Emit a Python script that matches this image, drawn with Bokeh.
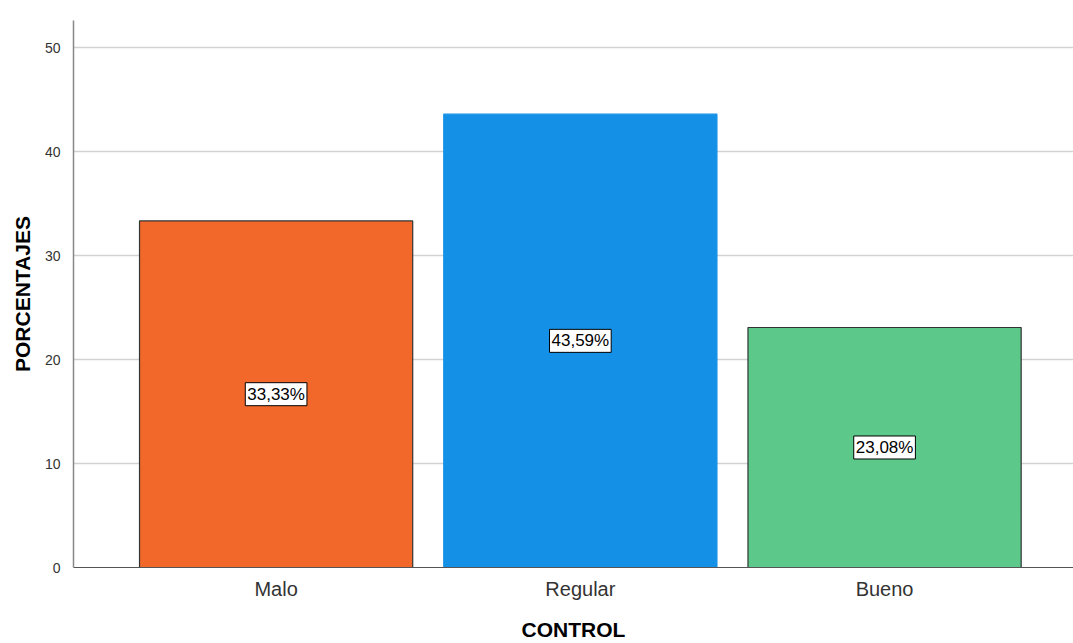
from bokeh.plotting import figure
from bokeh.models import ColumnDataSource, Range1d, FixedTicker
from bokeh.core.properties import value
from bokeh.embed import file_html
from bokeh.resources import INLINE

# Distribution of CONTROL ratings
categories = ["Malo", "Regular", "Bueno"]
percentages = [33.33, 43.59, 23.08]
colors = ["#F2682B", "#1491E7", "#5CC98B"]
outline_colors = ["#333333", "#1491E7", "#333333"]
y_ticks = [0, 10, 20, 30, 40, 50]

xs = list(range(len(categories)))
label_text = [f"{v:.2f}%".replace(".", ",") for v in percentages]

source = ColumnDataSource(dict(
    x=xs,
    top=percentages,
    mid=[v / 2 for v in percentages],
    color=colors,
    line=outline_colors,
    label=label_text,
))

FONT = "Liberation Sans"

p = figure(
    width=1073, height=643,
    x_range=Range1d(-0.666, 2.621),
    y_range=Range1d(0, 52.6),
    output_backend="svg",
    toolbar_location=None,
    min_border_left=73, min_border_right=0,
    min_border_top=20, min_border_bottom=75,
)
p.outline_line_color = None
p.background_fill_color = "white"
p.border_fill_color = "white"

p.vbar(x="x", top="top", width=0.898, bottom=0, source=source,
       fill_color="color", line_color="line", line_width=1.2)

# value labels in boxed text at mid-height of each bar
p.text(
    x="x", y="mid", text="label", source=source,
    text_align="center", text_baseline="middle",
    text_font=value(FONT), text_font_size="17px", text_color="black",
    background_fill_color="white", border_line_color="black",
    border_line_width=1, padding=2,
)

# x axis
p.xaxis.ticker = FixedTicker(ticks=xs)
p.xaxis.major_label_overrides = {i: c for i, c in enumerate(categories)}
p.xaxis.major_label_text_font = FONT
p.xaxis.major_label_text_font_size = "20px"
p.xaxis.major_label_text_color = "#333333"
p.xaxis.major_label_standoff = 4
p.xaxis.major_tick_line_color = None
p.xaxis.minor_tick_line_color = None
p.xaxis.axis_line_color = "#555555"
p.xaxis.axis_line_width = 1.2
p.xaxis.axis_label = "CONTROL"
p.xaxis.axis_label_text_font = FONT
p.xaxis.axis_label_text_font_size = "21px"
p.xaxis.axis_label_text_font_style = "bold"
p.xaxis.axis_label_text_color = "black"
p.xaxis.axis_label_standoff = 15

# y axis
p.yaxis.ticker = FixedTicker(ticks=y_ticks)
p.yaxis.major_label_text_font = FONT
p.yaxis.major_label_text_font_size = "14px"
p.yaxis.major_label_text_color = "#333333"
p.yaxis.major_label_standoff = 7
p.yaxis.major_tick_line_color = None
p.yaxis.minor_tick_line_color = None
p.yaxis.axis_line_color = "#888888"
p.yaxis.axis_line_width = 1.5
p.yaxis.axis_label = "PORCENTAJES"
p.yaxis.axis_label_text_font = FONT
p.yaxis.axis_label_text_font_size = "21px"
p.yaxis.axis_label_text_font_style = "bold"
p.yaxis.axis_label_text_color = "black"
p.yaxis.axis_label_standoff = 8

p.xgrid.grid_line_color = None
p.ygrid.grid_line_color = "#D2D2D2"
p.ygrid.grid_line_width = 1.5

open("out.html", "w").write(file_html(p, INLINE))
